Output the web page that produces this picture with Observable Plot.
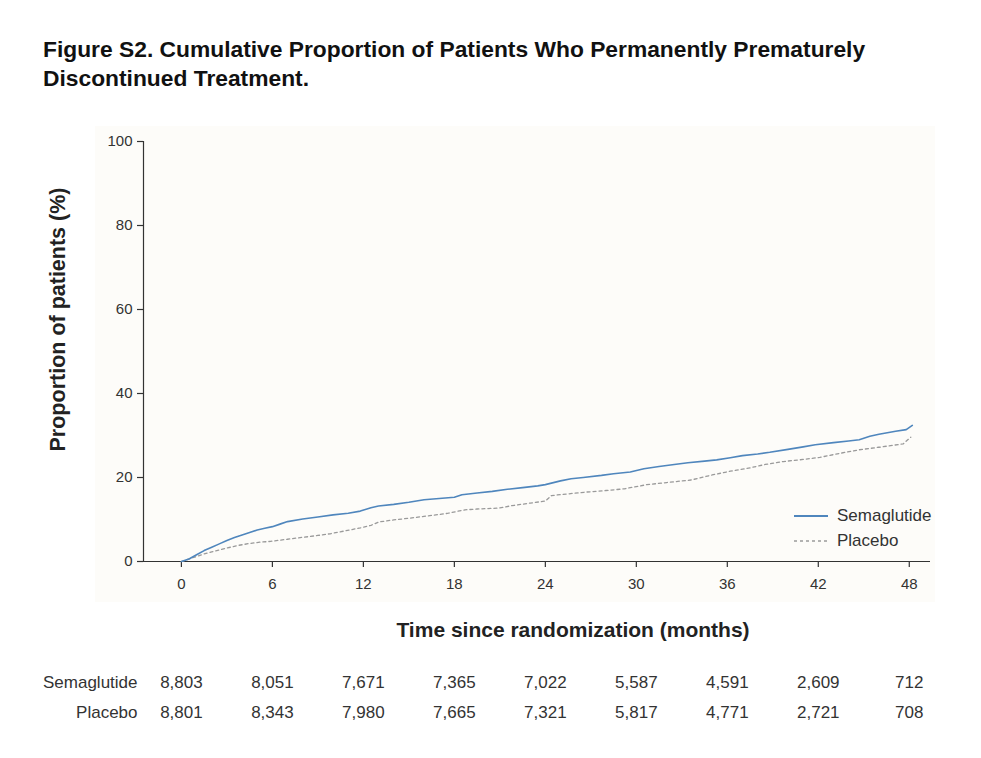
<!DOCTYPE html>
<html>
<head>
<meta charset="utf-8">
<script src="https://cdn.jsdelivr.net/npm/d3@7"></script>
<script src="https://cdn.jsdelivr.net/npm/@observablehq/plot@0.6"></script>
<style>
  html, body { margin: 0; padding: 0; background: #ffffff; }
  body { width: 981px; height: 758px; position: relative; overflow: hidden; font-family: "Liberation Sans", Arial, sans-serif; }
  #title { position: absolute; left: 43px; top: 35px; font-family: "Liberation Sans", Arial, sans-serif; font-weight: bold; font-size: 22.8px; line-height: 29px; color: #111; white-space: nowrap; }
  #bg { position: absolute; left: 95px; top: 126px; width: 840px; height: 476px; background: #fdfcf9; }
  #main { position: absolute; left: 0; top: 120px; }
  #risk { position: absolute; left: 0; top: 660px; }
  #legend { position: absolute; left: 793px; top: 503px; font-size: 17px; color: #333; }
  #legend .item { display: flex; align-items: center; height: 25px; }
  #legend svg { margin-right: 8px; }
</style>
</head>
<body>
<div id="title">Figure S2. Cumulative Proportion of Patients Who Permanently Prematurely<br>Discontinued Treatment.</div>
<div id="bg"></div>
<div id="main"></div>
<div id="legend"></div>
<div id="risk"></div>
<script>
// ---- data ----
const seriesNames = ["Semaglutide", "Placebo"];
const seriesColors = ["#4f86bd", "#9a9a9a"];

const semaMonths = [0,0.5,1,1.5,2,2.5,3,3.5,4,4.5,5,5.5,6,6.5,7,8,9,10,11,11.8,12.5,13,14,15,16,17,18,18.5,19.5,20.5,21.5,22.5,23.5,24,25,25.7,26.5,27.7,28.5,29.6,30.5,31.5,32.5,33.4,34.5,35.3,36.2,37,38,38.8,40,41,41.8,43,44,44.7,45.4,46,47.1,47.8,48.2];
const semaValues = [0,0.6,1.6,2.6,3.4,4.2,5.0,5.7,6.3,6.9,7.5,7.9,8.3,8.9,9.5,10.1,10.6,11.1,11.5,12.0,12.8,13.2,13.6,14.1,14.7,15.0,15.3,15.9,16.3,16.7,17.2,17.6,18.0,18.3,19.2,19.7,20.0,20.5,20.9,21.3,22.1,22.6,23.1,23.5,23.9,24.2,24.7,25.2,25.6,26.0,26.7,27.3,27.8,28.3,28.7,29.0,29.8,30.3,31.0,31.4,32.4];

const placMonths = [0,0.5,1,1.5,2,3,3.7,4.5,5.2,5.9,7,8.1,9,9.8,10.8,11.8,12.5,13,14,15,15.9,17,17.6,18.7,19.5,20.9,21.8,23,24,24.4,25.5,26.6,28,29.2,30.7,32,33.6,35,36.2,37.5,38.5,39.7,41,42.1,43.5,44.7,46,47.6,48.1];
const placValues = [0,0.6,1.2,1.8,2.3,3.2,3.8,4.3,4.6,4.8,5.3,5.8,6.2,6.6,7.3,8.0,8.6,9.4,9.9,10.3,10.7,11.2,11.5,12.3,12.5,12.7,13.3,13.9,14.4,15.7,16.1,16.5,16.9,17.3,18.3,18.8,19.4,20.6,21.5,22.3,23.1,23.8,24.3,24.8,25.8,26.6,27.2,28.0,29.6];

const xTicks = [0,6,12,18,24,30,36,42,48];
const yTicks = [0,20,40,60,80,100];
const riskSema = ["8,803","8,051","7,671","7,365","7,022","5,587","4,591","2,609","712"];
const riskPlac = ["8,801","8,343","7,980","7,665","7,321","5,817","4,771","2,721","708"];

// ---- derived tables ----
const sema = semaMonths.map((m, i) => ({month: m, value: semaValues[i], series: seriesNames[0]}));
const plac = placMonths.map((m, i) => ({month: m, value: placValues[i], series: seriesNames[1]}));
const risk = [
  ...xTicks.map((t, i) => ({month: t, group: seriesNames[0], n: riskSema[i]})),
  ...xTicks.map((t, i) => ({month: t, group: seriesNames[1], n: riskPlac[i]}))
];

const xDomain = [-2.5, 49.4];
const W = 981;
const mL = 143, mR = 51;
const axisColor = "#333";

const main = Plot.plot({
  width: W,
  height: 500,
  marginLeft: mL,
  marginRight: mR,
  marginTop: 21,
  marginBottom: 59,
  style: {background: "transparent", fontFamily: "'Liberation Sans', Arial, sans-serif", fontSize: "15px", color: axisColor, overflow: "visible"},
  x: {domain: xDomain},
  y: {domain: [0, 100]},
  marks: [
    Plot.axisY({ticks: yTicks, tickSize: 6, tickPadding: 5, label: null, fontSize: 15, stroke: axisColor, strokeWidth: 1.2}),
    Plot.axisX({ticks: xTicks, tickSize: 6, tickPadding: 11, label: null, fontSize: 15, stroke: axisColor, strokeWidth: 1.2}),
    Plot.ruleX([xDomain[0]], {stroke: axisColor, strokeWidth: 1.2}),
    Plot.ruleY([0], {stroke: axisColor, strokeWidth: 1.2}),
    Plot.line(plac, {x: "month", y: "value", stroke: seriesColors[1], strokeWidth: 1.3, strokeDasharray: "3,3"}),
    Plot.line(sema, {x: "month", y: "value", stroke: seriesColors[0], strokeWidth: 1.6}),
    Plot.text(["Time since randomization (months)"], {frameAnchor: "bottom", dx: 36, dy: 75, fontSize: 21, fontWeight: "bold", fill: "#222"}),
    Plot.text(["Proportion of patients (%)"], {frameAnchor: "left", textAnchor: "middle", dx: -85, dy: -32, rotate: -90, fontSize: 21.5, fontWeight: "bold", fill: "#222"})
  ]
});
document.getElementById("main").appendChild(main);

const riskPlot = Plot.plot({
  width: W,
  height: 70,
  marginLeft: mL,
  marginRight: mR,
  marginTop: 22,
  marginBottom: 18,
  style: {background: "transparent", fontFamily: "'Liberation Sans', Arial, sans-serif", fontSize: "17px", color: "#333", overflow: "visible"},
  x: {domain: xDomain, axis: null},
  y: {type: "point", domain: seriesNames, padding: 0},
  marks: [
    Plot.axisY({tickSize: 0, tickPadding: 6, label: null, fontSize: 17}),
    Plot.text(risk, {x: "month", y: "group", text: "n", fontSize: 17, fill: "#333"})
  ]
});
document.getElementById("risk").appendChild(riskPlot);

// legend
const legend = document.getElementById("legend");
seriesNames.forEach((name, i) => {
  const item = document.createElement("div");
  item.className = "item";
  const dash = i === 1 ? ' stroke-dasharray="3,3"' : '';
  item.innerHTML = `<svg width="36" height="4"><line x1="1" y1="2" x2="35" y2="2" stroke="${seriesColors[i]}" stroke-width="${i === 1 ? 1.3 : 1.8}"${dash}/></svg><span>${name}</span>`;
  legend.appendChild(item);
});
</script>
</body>
</html>
